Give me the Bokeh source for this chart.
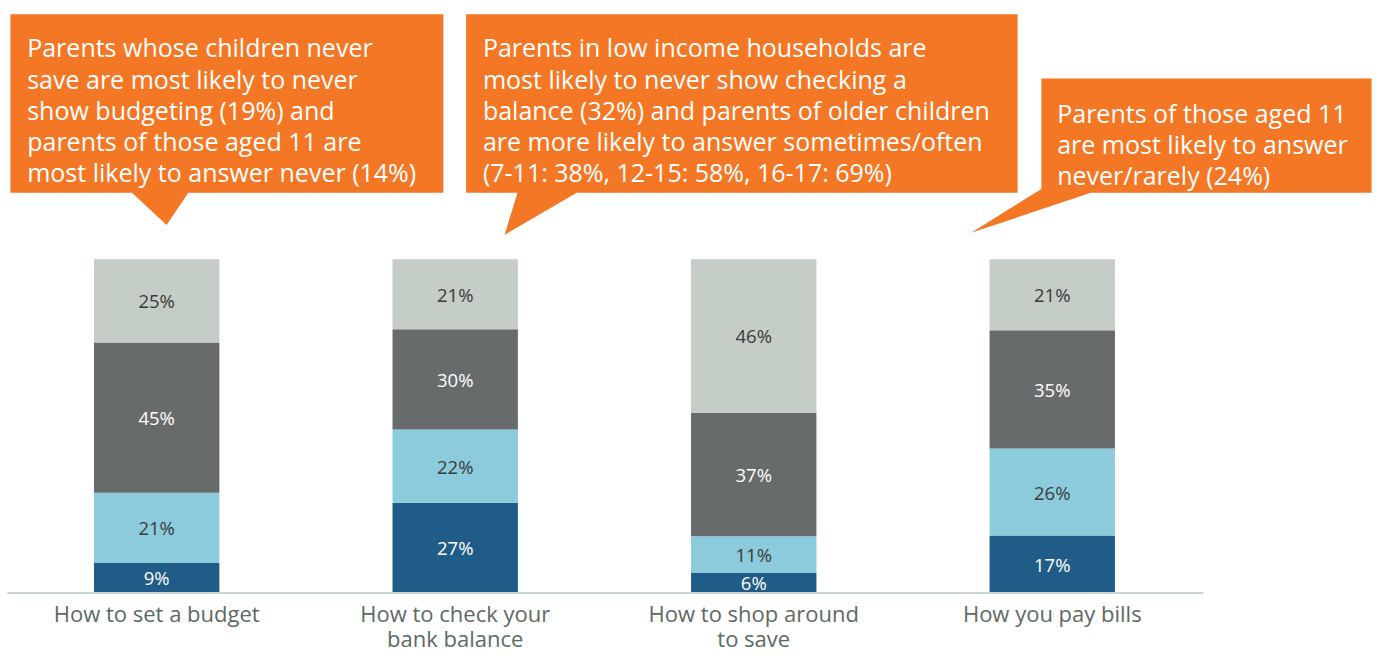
from bokeh.plotting import figure
from bokeh.models import ColumnDataSource, Range1d
from bokeh.core.properties import value
from bokeh.embed import file_html
from bokeh.resources import INLINE

# ---- data ----
categories = ["How to set a budget", "How to check your\nbank balance",
              "How to shop around\nto save", "How you pay bills"]
series = ["Never", "Rarely", "Sometimes", "Often"]
never = [9, 27, 6, 17.2]
rarely = [21, 22, 11, 26.1]
sometimes = [45, 30, 37, 35.4]
often = [25, 21, 46, 21.3]
colors = ["#1f5c88", "#8ccbdc", "#686b6b", "#c4cdc6"]
label_colors = ["#ffffff", "#3b3b3b", "#ffffff", "#3b3b3b"]

callouts = [
    ["Parents whose children never", "save are most likely to never",
     "show budgeting (19%) and", "parents of those aged 11 are",
     "most likely to answer never (14%)"],
    ["Parents in low income households are", "most likely to never show checking a",
     "balance (32%) and parents of older children", "are more likely to answer sometimes/often",
     "(7-11: 38%, 12-15: 58%, 16-17: 69%)"],
    ["Parents of those aged 11", "are most likely to answer", "never/rarely (24%)"],
]

# ---- layout ----
W, H = 1375, 653
RW, RH = 1391, 669          # reference frame
SX, SY = W / RW, H / RH
X0, XS = 158 * SX, 302 * SX  # px of first category, px per category
Y0, YS = 607 * SY, 3.42 * SY  # px of baseline, px per percent


def to_data(xr, yr):
    """reference pixel -> data coords"""
    fx, fy = xr * SX, yr * SY
    return (fx - X0) / XS, (Y0 - fy) / YS


p = figure(width=W, height=H, output_backend="svg", toolbar_location=None,
           x_range=Range1d(-X0 / XS, (W - X0) / XS),
           y_range=Range1d((Y0 - H) / YS, Y0 / YS),
           min_border=0, outline_line_color=None)
p.axis.visible = False
p.grid.visible = False
p.background_fill_color = "white"
p.border_fill_color = "white"

xs = list(range(len(categories)))
src = ColumnDataSource(dict(x=xs, Never=never, Rarely=rarely,
                            Sometimes=sometimes, Often=often))
p.vbar_stack(series, x="x", width=0.42, color=colors, line_color=None, source=src)

# segment labels
lx, ly, lt, lc = [], [], [], []
vals = [never, rarely, sometimes, often]
for i in xs:
    base = 0
    for s, arr in enumerate(vals):
        v = arr[i]
        lx.append(i)
        ly.append(base + v / 2)
        lt.append(f"{round(v)}%")
        lc.append(label_colors[s])
        base += v
p.text(x=lx, y=ly, text=lt, text_color=lc, text_font=value("Open Sans"),
       text_font_size="18.5px", text_align="center", text_baseline="middle")

# baseline axis line
ax0, _ = to_data(7, 607)
ax1, _ = to_data(1217, 607)
p.segment(x0=[ax0], y0=[0], x1=[ax1], y1=[0], line_color="#c9d3cf", line_width=2)

# category labels
cx, cy, ct = [], [], []
for i, c in enumerate(categories):
    for j, line in enumerate(c.split("\n")):
        cx.append(i)
        cy.append(to_data(0, 628 + 25 * j)[1])
        ct.append(line)
p.text(x=cx, y=cy, text=ct, text_color="#5c6a64", text_font=value("Open Sans"),
       text_font_size="22px", text_align="center", text_baseline="middle")

# callout shapes (reference pixel outlines)
shapes = [
    [(10, 14), (448, 14), (448, 197), (190, 197), (168, 230), (133, 197), (10, 197)],
    [(471, 14), (1029, 14), (1029, 197), (583, 197), (510, 240), (523, 197), (471, 197)],
    [(1053, 80), (1387, 80), (1387, 197), (1103, 197), (982, 238), (1053, 193)],
]
pxs, pys = [], []
for sh in shapes:
    pts = [to_data(a, b) for a, b in sh]
    pxs.append([q[0] for q in pts])
    pys.append([q[1] for q in pts])
p.patches(xs=pxs, ys=pys, fill_color="#f47725", line_color=None)

starts = [(27, 48), (488, 48), (1069, 115)]
tx, ty, tt = [], [], []
for (sx, sy), lines in zip(starts, callouts):
    for j, line in enumerate(lines):
        dx, dy = to_data(sx, sy + 32 * j)
        tx.append(dx)
        ty.append(dy)
        tt.append(line)
p.text(x=tx, y=ty, text=tt, text_color="white", text_font=value("Open Sans"),
       text_font_size="25px", text_align="left", text_baseline="alphabetic")

open("out.html", "w").write(file_html(p, INLINE))
